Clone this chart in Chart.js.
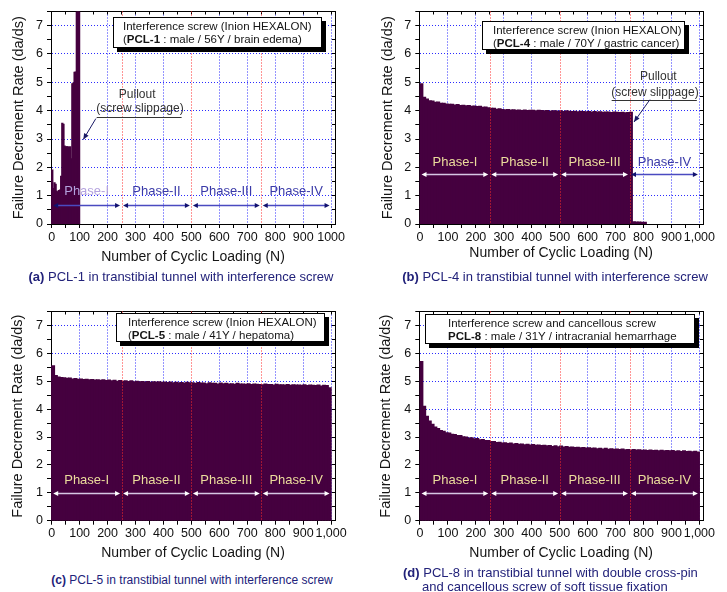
<!DOCTYPE html>
<html>
<head>
<meta charset="utf-8">
<script src="https://cdn.jsdelivr.net/npm/chart.js@4.4.1/dist/chart.umd.min.js"></script>
<style>
html,body{margin:0;padding:0;background:#fff;}
body{width:727px;height:592px;position:relative;overflow:hidden;font-family:'Liberation Sans',Arial,Helvetica,sans-serif;}
canvas{position:absolute;}
.box{position:absolute;background:#fff;border:1px solid #000;box-shadow:4px 4px 0 #000;font-size:11.5px;line-height:13px;color:#151515;white-space:nowrap;box-sizing:border-box;}
.cap{position:absolute;color:#22227a;white-space:nowrap;font-size:13px;line-height:16px;}
.ctr{text-align:center;width:400px;}
</style>
</head>
<body>
<canvas id="ca" width="360" height="270" style="left:0;top:0;"></canvas>
<canvas id="cb" width="367" height="270" style="left:360px;top:0;"></canvas>
<canvas id="cc" width="360" height="270" style="left:0;top:300px;"></canvas>
<canvas id="cd" width="367" height="270" style="left:360px;top:300px;"></canvas>

<div class="box" style="left:113px;top:17px;width:209px;height:31px;padding:2px 0 0 9px;">Interference screw (Inion HEXALON)<br>(<b>PCL-1</b> : male / 56Y / brain edema)</div>
<div class="box" style="left:482px;top:21px;width:203px;height:29px;padding:2px 0 0 10px;">Interference screw (Inion HEXALON)<br>(<b>PCL-4</b> : male / 70Y / gastric cancer)</div>
<div class="box" style="left:116px;top:313px;width:209px;height:29px;padding:2px 0 0 11px;">Interference screw (Inion HEXALON)<br>(<b>PCL-5</b> : male / 41Y / hepatoma)</div>
<div class="box" style="left:425px;top:314px;width:270px;height:30px;padding:2px 0 0 22px;">Interference screw and cancellous screw<br><b>PCL-8</b> : male / 31Y / intracranial hemarrhage</div>

<div class="cap ctr" style="left:-19px;top:269px;"><b>(a)</b> PCL-1 in transtibial tunnel with interference screw</div>
<div class="cap ctr" style="left:355px;top:269px;"><b>(b)</b> PCL-4 in transtibial tunnel with interference screw</div>
<div class="cap ctr" style="left:-8px;top:572px;font-size:12px;"><b>(c)</b> PCL-5 in transtibial tunnel with interference screw</div>
<div class="cap" style="left:403px;top:565px;"><b>(d)</b> PCL-8 in transtibial tunnel with double cross-pin</div>
<div class="cap" style="left:422px;top:579px;">and cancellous screw of soft tissue fixation</div>

<script>
// ---------------- data ----------------
const phaseNames = ['Phase-I', 'Phase-II', 'Phase-III', 'Phase-IV'];
const phaseBounds = [0, 250, 500, 750, 1000];

// bin centres (cycles) for 10-cycle bins
const binCenters = [
  5,15,25,35,45,55,65,75,85,95,
  105,115,125,135,145,155,165,175,185,195,
  205,215,225,235,245,255,265,275,285,295,
  305,315,325,335,345,355,365,375,385,395,
  405,415,425,435,445,455,465,475,485,495,
  505,515,525,535,545,555,565,575,585,595,
  605,615,625,635,645,655,665,675,685,695,
  705,715,725,735,745,755,765,775,785,795,
  805,815,825,835,845,855,865,875,885,895,
  905,915,925,935,945,955,965,975,985,995
];
// bin centres (cycles) for 4-cycle bins of PCL-1
const binCentersA = [2,6,10,14,18,22,26,30,34,38,42,46,50,54,58,62,66,70,74,78,82,86,90,94,98];

const pcl1Rate = [1.90,1.25,1.45,1.40,1.15,1.12,1.18,1.20,1.68,3.55,3.52,2.75,2.72,2.72,2.72,2.70,2.72,2.30,4.95,4.97,5.35,5.36,7.50,7.50,7.50];

const pcl4Rate = [
  4.95,4.47,4.41,4.35,4.34,4.29,4.30,4.26,4.26,4.23,
  4.22,4.22,4.20,4.21,4.18,4.19,4.17,4.18,4.15,4.16,
  4.14,4.15,4.12,4.13,4.10,4.08,4.08,4.05,4.06,4.04,
  4.03,4.04,4.02,4.03,4.01,4.02,4.00,4.02,4.00,4.01,
  4.01,3.99,4.01,4.00,3.99,4.00,3.98,3.99,3.99,3.98,
  3.99,3.97,3.99,3.98,3.97,3.98,3.96,3.98,3.97,3.96,
  3.97,3.95,3.97,3.95,3.96,3.94,3.95,3.95,3.93,3.95,
  3.94,3.93,3.94,3.92,3.93,3.94,
  0.08,0.07,0.07,0.06,0.06
];

const pcl5Rate = [
  5.55,5.20,5.15,5.13,5.12,5.10,5.11,5.08,5.09,5.07,
  5.08,5.06,5.07,5.05,5.06,5.04,5.05,5.03,5.05,5.02,
  5.04,5.01,5.03,5.00,5.02,5.00,5.01,4.99,5.01,4.98,
  5.00,4.98,4.99,4.97,4.99,4.96,4.98,4.97,4.98,4.96,
  4.97,4.95,4.97,4.94,4.96,4.94,4.95,4.93,4.96,4.94,
  4.94,4.92,4.95,4.93,4.93,4.91,4.94,4.92,4.92,4.90,
  4.93,4.91,4.92,4.90,4.91,4.89,4.92,4.90,4.90,4.89,
  4.91,4.88,4.90,4.89,4.88,4.87,4.90,4.88,4.88,4.86,
  4.89,4.87,4.87,4.86,4.88,4.85,4.87,4.86,4.86,4.85,
  4.87,4.84,4.86,4.85,4.84,4.86,4.83,4.85,4.84,4.76
];

const pcl8Rate = [
  5.70,4.10,3.74,3.57,3.45,3.36,3.30,3.23,3.20,3.15,
  3.14,3.10,3.09,3.05,3.05,3.01,3.00,2.96,2.97,2.93,
  2.94,2.90,2.91,2.87,2.87,2.84,2.84,2.80,2.81,2.78,
  2.79,2.76,2.78,2.75,2.76,2.74,2.75,2.72,2.74,2.71,
  2.73,2.70,2.71,2.69,2.70,2.68,2.69,2.66,2.68,2.65,
  2.67,2.64,2.66,2.63,2.64,2.62,2.63,2.61,2.62,2.60,
  2.61,2.59,2.60,2.58,2.59,2.57,2.59,2.56,2.58,2.56,
  2.57,2.55,2.57,2.54,2.55,2.53,2.55,2.53,2.54,2.52,
  2.53,2.51,2.53,2.51,2.52,2.50,2.52,2.50,2.51,2.50,
  2.51,2.49,2.50,2.48,2.50,2.48,2.49,2.47,2.49,2.46
];

// ---------------- styling ----------------
const FONT = "'Liberation Sans', Arial, Helvetica, sans-serif";
Chart.defaults.font.family = FONT;
const BAR = '#45003f';
const BLUE = '#2b2bff';
const RED = '#ff2a2a';
const NONE = 'rgba(0,0,0,0)';

function head(ctx, x, y, dir) {
  ctx.beginPath();
  ctx.moveTo(x, y);
  ctx.lineTo(x + dir * 5, y - 2.6);
  ctx.lineTo(x + dir * 5, y + 2.6);
  ctx.closePath();
  ctx.fill();
}

const annotPlugin = {
  id: 'annot',
  afterDatasetsDraw(chart) {
    // phase boundaries (red dotted) drawn over the bars
    const ctx = chart.ctx, xs = chart.scales.x, area = chart.chartArea;
    ctx.save();
    ctx.strokeStyle = RED;
    ctx.lineWidth = 1;
    ctx.setLineDash([1, 2]);
    for (let i = 1; i < phaseBounds.length - 1; i++) {
      const px = Math.round(xs.getPixelForValue(phaseBounds[i])) + 0.5;
      ctx.beginPath(); ctx.moveTo(px, area.top); ctx.lineTo(px, area.bottom); ctx.stroke();
    }
    ctx.restore();
  },
  afterDraw(chart, args, o) {
    const ctx = chart.ctx, xs = chart.scales.x, ys = chart.scales.y;
    ctx.save();
    const ay = Math.round(ys.getPixelForValue(o.arrowY)) + 0.5;
    const ly = ys.getPixelForValue(o.labelY);
    ctx.font = '13px ' + FONT;
    ctx.textAlign = 'center';
    ctx.textBaseline = 'middle';
    for (let i = 0; i < phaseNames.length; i++) {
      const x1 = xs.getPixelForValue(phaseBounds[i]) + 1.5;
      const x2 = xs.getPixelForValue(phaseBounds[i + 1]) - 1.5;
      ctx.strokeStyle = o.lineColors[i];
      ctx.lineWidth = 1.3;
      ctx.beginPath(); ctx.moveTo(x1 + 3, ay); ctx.lineTo(x2 - 3, ay); ctx.stroke();
      ctx.fillStyle = o.headColors[i];
      head(ctx, x1, ay, 1); head(ctx, x2, ay, -1);
      ctx.fillStyle = o.labelColors[i];
      ctx.fillText(phaseNames[i], (x1 + x2) / 2, ly);
    }
    const p = o.pullout;
    if (p) {
      ctx.fillStyle = '#333';
      ctx.font = '12px ' + FONT;
      ctx.fillText('Pullout', xs.getPixelForValue(p.t1x), ys.getPixelForValue(p.t1y));
      ctx.fillText('(screw slippage)', xs.getPixelForValue(p.t2x), ys.getPixelForValue(p.t2y));
      ctx.strokeStyle = '#333';
      ctx.lineWidth = 1;
      const uy = Math.round(ys.getPixelForValue(p.uy)) + 0.5;
      ctx.beginPath(); ctx.moveTo(xs.getPixelForValue(p.u1), uy); ctx.lineTo(xs.getPixelForValue(p.u2), uy); ctx.stroke();
      const fx = xs.getPixelForValue(p.fx), fy = ys.getPixelForValue(p.fy);
      const tx = xs.getPixelForValue(p.tx), ty = ys.getPixelForValue(p.ty);
      ctx.strokeStyle = '#1a1a66';
      ctx.beginPath(); ctx.moveTo(fx, fy); ctx.lineTo(tx, ty); ctx.stroke();
      const ang = Math.atan2(ty - fy, tx - fx);
      ctx.fillStyle = '#1a1a66';
      ctx.beginPath();
      ctx.moveTo(tx, ty);
      ctx.lineTo(tx - 6 * Math.cos(ang) + 2.6 * Math.sin(ang), ty - 6 * Math.sin(ang) - 2.6 * Math.cos(ang));
      ctx.lineTo(tx - 6 * Math.cos(ang) - 2.6 * Math.sin(ang), ty - 6 * Math.sin(ang) + 2.6 * Math.cos(ang));
      ctx.closePath(); ctx.fill();
    }
    ctx.restore();
  }
};

function makePanel(id, g) {
  const xMin = -2.5;
  const fmt = g.comma ? (v => v.toLocaleString('en-US')) : (v => String(v));
  new Chart(document.getElementById(id), {
    type: 'bar',
    data: {
      datasets: [{
        data: g.centers.map((c, i) => ({ x: c, y: g.rates[i] })),
        backgroundColor: BAR,
        borderWidth: 0,
        inflateAmount: 0.6,
        barPercentage: 1,
        categoryPercentage: 1
      }]
    },
    options: {
      responsive: false,
      animation: false,
      devicePixelRatio: 1,
      events: [],
      layout: { padding: { top: g.padTop, right: g.padRight, bottom: g.padBottom, left: 0 } },
      plugins: {
        legend: { display: false },
        tooltip: { enabled: false },
        annot: g.annot
      },
      scales: {
        x: {
          type: 'linear', position: 'bottom', min: xMin, max: g.xMax, offset: false,
          afterFit: s => { s.height = 45; },
          ticks: {
            stepSize: 50, includeBounds: false, autoSkip: false, maxRotation: 0, padding: g.xTickPad,
            color: '#111', font: { size: 12.5 },
            callback: v => (v % 100 === 0 ? fmt(v) : '')
          },
          grid: {
            offset: false, lineWidth: 1, tickColor: '#000', tickLength: 4,
            color: c => (c.tick && c.tick.value % 100 === 0 && c.tick.value !== 500) ? BLUE : NONE
          },
          border: { display: true, color: '#000', width: 1, dash: [1, 2] },
          title: { display: true, text: 'Number of Cyclic Loading (N)', color: '#151515', font: { size: 14 }, padding: { top: 0, bottom: g.xTitlePad } }
        },
        xTop: {
          type: 'linear', position: 'top', min: xMin, max: g.xMax, offset: false,
          afterFit: s => { s.height = 0; },
          ticks: { display: false, stepSize: 50, includeBounds: false, autoSkip: false },
          grid: { offset: false, drawOnChartArea: false, drawTicks: true, tickLength: -3, tickColor: '#000' },
          border: { display: true, color: '#000', width: 1 }
        },
        y: {
          type: 'linear', position: 'left', min: 0, max: 7.5,
          afterFit: s => { s.width = g.yWidth; },
          ticks: {
            stepSize: 0.5, includeBounds: false, autoSkip: false, padding: 4,
            color: '#111', font: { size: 12.5 },
            callback: v => (Number.isInteger(v) ? String(v) : '')
          },
          grid: {
            lineWidth: 1, tickColor: '#000', tickLength: 4,
            color: c => (c.tick && Number.isInteger(c.tick.value) && c.tick.value > 0) ? BLUE : NONE
          },
          border: { display: true, color: '#000', width: 1, dash: [1, 2] },
          title: { display: true, text: 'Failure Decrement Rate (da/ds)', color: '#151515', font: { size: 14.5 }, padding: { top: g.yTitlePad, bottom: 0 } }
        },
        yRight: {
          type: 'linear', position: 'right', min: 0, max: 7.5,
          afterFit: s => { s.width = 0; },
          ticks: { display: false, stepSize: 0.5, includeBounds: false, autoSkip: false },
          grid: { drawOnChartArea: false, drawTicks: true, tickLength: -3, tickColor: '#000' },
          border: { display: true, color: '#000', width: 1 }
        }
      }
    },
    plugins: [annotPlugin]
  });
}

const LIGHT_LINE = '#d6c6e4', LIGHT_HEAD = '#ffffff', TAN = '#ecdc9c';
const BLUE_TXT = '#3a3aa8', BLUE_LINE = '#4a4ac0', NAVY = '#12126e';

makePanel('ca', {
  centers: binCentersA, rates: pcl1Rate, comma: false, xMax: 1014,
  padTop: 11, padRight: 25, padBottom: 1, yWidth: 51, yTitlePad: 10.6, xTitlePad: 3.6, xTickPad: 2,
  annot: {
    arrowY: 0.67, labelY: 1.14,
    lineColors: [BLUE_LINE, BLUE_LINE, BLUE_LINE, BLUE_LINE],
    headColors: [NAVY, NAVY, NAVY, NAVY],
    labelColors: ['#b4a2de', BLUE_TXT, BLUE_TXT, BLUE_TXT],
    pullout: { t1x: 306, t1y: 4.58, t2x: 316, t2y: 4.07, u1: 161, u2: 465, uy: 3.76, fx: 158, fy: 3.72, tx: 113, ty: 2.98 }
  }
});

makePanel('cb', {
  centers: binCenters.slice(0, pcl4Rate.length), rates: pcl4Rate, comma: true, xMax: 1013,
  padTop: 11, padRight: 24, padBottom: 1, yWidth: 59.3, yTitlePad: 19.6, xTitlePad: 7.6, xTickPad: 2,
  annot: {
    arrowY: 1.76, labelY: 2.19,
    lineColors: [LIGHT_LINE, LIGHT_LINE, LIGHT_LINE, BLUE_LINE],
    headColors: [LIGHT_HEAD, LIGHT_HEAD, LIGHT_HEAD, NAVY],
    labelColors: [TAN, TAN, TAN, BLUE_TXT],
    pullout: { t1x: 853, t1y: 5.21, t2x: 841, t2y: 4.64, u1: 686, u2: 991, uy: 4.39, fx: 823, fy: 4.39, tx: 766, ty: 3.60 }
  }
});

makePanel('cc', {
  centers: binCenters, rates: pcl5Rate, comma: true, xMax: 1014,
  padTop: 7.7, padRight: 25, padBottom: 4.3, yWidth: 51, yTitlePad: 9.6, xTitlePad: 4.3, xTickPad: 1,
  annot: {
    arrowY: 0.99, labelY: 1.43,
    lineColors: [LIGHT_LINE, LIGHT_LINE, LIGHT_LINE, LIGHT_LINE],
    headColors: [LIGHT_HEAD, LIGHT_HEAD, LIGHT_HEAD, LIGHT_HEAD],
    labelColors: [TAN, TAN, TAN, TAN]
  }
});

makePanel('cd', {
  centers: binCenters, rates: pcl8Rate, comma: true, xMax: 1013,
  padTop: 7.7, padRight: 24, padBottom: 4.3, yWidth: 59.3, yTitlePad: 17.6, xTitlePad: 4.3, xTickPad: 1,
  annot: {
    arrowY: 0.99, labelY: 1.45,
    lineColors: [LIGHT_LINE, LIGHT_LINE, LIGHT_LINE, LIGHT_LINE],
    headColors: [LIGHT_HEAD, LIGHT_HEAD, LIGHT_HEAD, LIGHT_HEAD],
    labelColors: [TAN, TAN, TAN, TAN]
  }
});
</script>
</body>
</html>
